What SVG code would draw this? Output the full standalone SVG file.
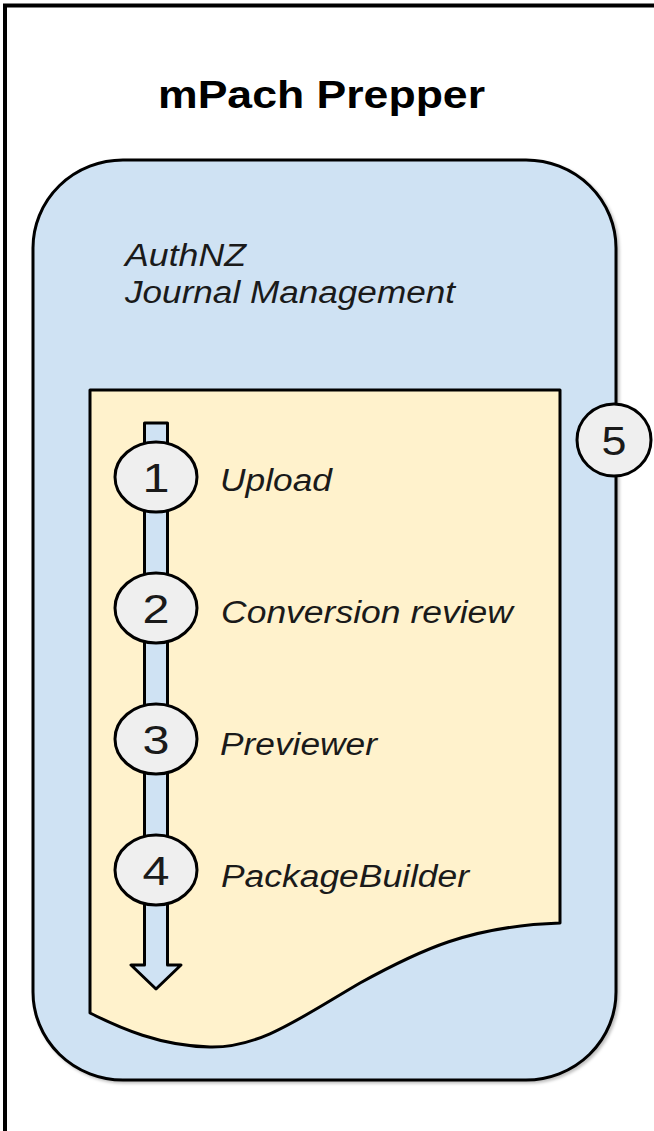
<svg xmlns="http://www.w3.org/2000/svg" width="654" height="1131" viewBox="0 0 654 1131">
  <style>
    .shape { stroke: #000; stroke-width: 3; stroke-linejoin: round; }
    .container { fill: #cfe2f3; }
    .doc { fill: #fff2cc; }
    .step { fill: #efefef; stroke: #000; stroke-width: 3; }
    .title { font-family: "Liberation Sans", Arial, sans-serif; font-weight: bold; font-size: 38px; fill: #000; }
    .label { font-family: "Liberation Sans", Arial, sans-serif; font-style: italic; font-size: 31px; fill: #1a1a1a; }
    .num { font-family: "Liberation Sans", Arial, sans-serif; font-size: 41px; fill: #1a1a1a; text-anchor: middle; }
  </style>
  <defs>
    <filter id="soft-shadow" x="-5%" y="-5%" width="110%" height="110%">
      <feDropShadow dx="2" dy="2" stdDeviation="1.5" flood-color="#000" flood-opacity="0.25"/>
    </filter>
  </defs>

  <rect width="654" height="1131" fill="#fff"/>

  <!-- page frame (left and top edges) -->
  <path d="M5,1131 V5.5 H654" fill="none" stroke="#000" stroke-width="4"/>

  <g id="title">
    <text class="title" x="158" y="108" textLength="327" lengthAdjust="spacingAndGlyphs">mPach Prepper</text>
  </g>

  <!-- application container -->
  <g id="prepper-app">
    <rect class="shape container" x="33" y="160" width="583" height="920" rx="90" ry="88" filter="url(#soft-shadow)"/>
    <text class="label" x="125" y="266" textLength="121" lengthAdjust="spacingAndGlyphs">AuthNZ</text>
    <text class="label" x="125" y="303" textLength="330" lengthAdjust="spacingAndGlyphs">Journal Management</text>
  </g>

  <!-- workflow document -->
  <g id="workflow-doc">
    <path class="shape doc" d="M90,390 H560 V923 C470,926 420,950 360,983 C300,1018 260,1048 210,1047 C160,1046 120,1028 90,1013 Z"/>
  </g>

  <!-- flow arrow through the steps -->
  <g id="connectors">
    <path class="shape container" d="M144.5,423 H167.5 V965 H181 L156,989 L131,965 H144.5 Z"/>
  </g>

  <g id="step-1">
    <ellipse class="step" cx="156" cy="477" rx="41" ry="35"/>
    <text class="num" x="156" y="492" textLength="27" lengthAdjust="spacingAndGlyphs">1</text>
    <text class="label" x="220" y="491" textLength="112" lengthAdjust="spacingAndGlyphs">Upload</text>
  </g>

  <g id="step-2">
    <ellipse class="step" cx="156" cy="608" rx="41" ry="35"/>
    <text class="num" x="156" y="623" textLength="27" lengthAdjust="spacingAndGlyphs">2</text>
    <text class="label" x="221" y="623" textLength="292" lengthAdjust="spacingAndGlyphs">Conversion review</text>
  </g>

  <g id="step-3">
    <ellipse class="step" cx="156" cy="739" rx="41" ry="35"/>
    <text class="num" x="156" y="754" textLength="27" lengthAdjust="spacingAndGlyphs">3</text>
    <text class="label" x="220" y="755" textLength="157" lengthAdjust="spacingAndGlyphs">Previewer</text>
  </g>

  <g id="step-4">
    <ellipse class="step" cx="156" cy="870" rx="41" ry="35"/>
    <text class="num" x="156" y="885" textLength="27" lengthAdjust="spacingAndGlyphs">4</text>
    <text class="label" x="221" y="887" textLength="248" lengthAdjust="spacingAndGlyphs">PackageBuilder</text>
  </g>

  <g id="step-5">
    <ellipse class="step" cx="614" cy="440" rx="37" ry="36"/>
    <text class="num" x="614" y="455" textLength="25" lengthAdjust="spacingAndGlyphs">5</text>
  </g>
</svg>
